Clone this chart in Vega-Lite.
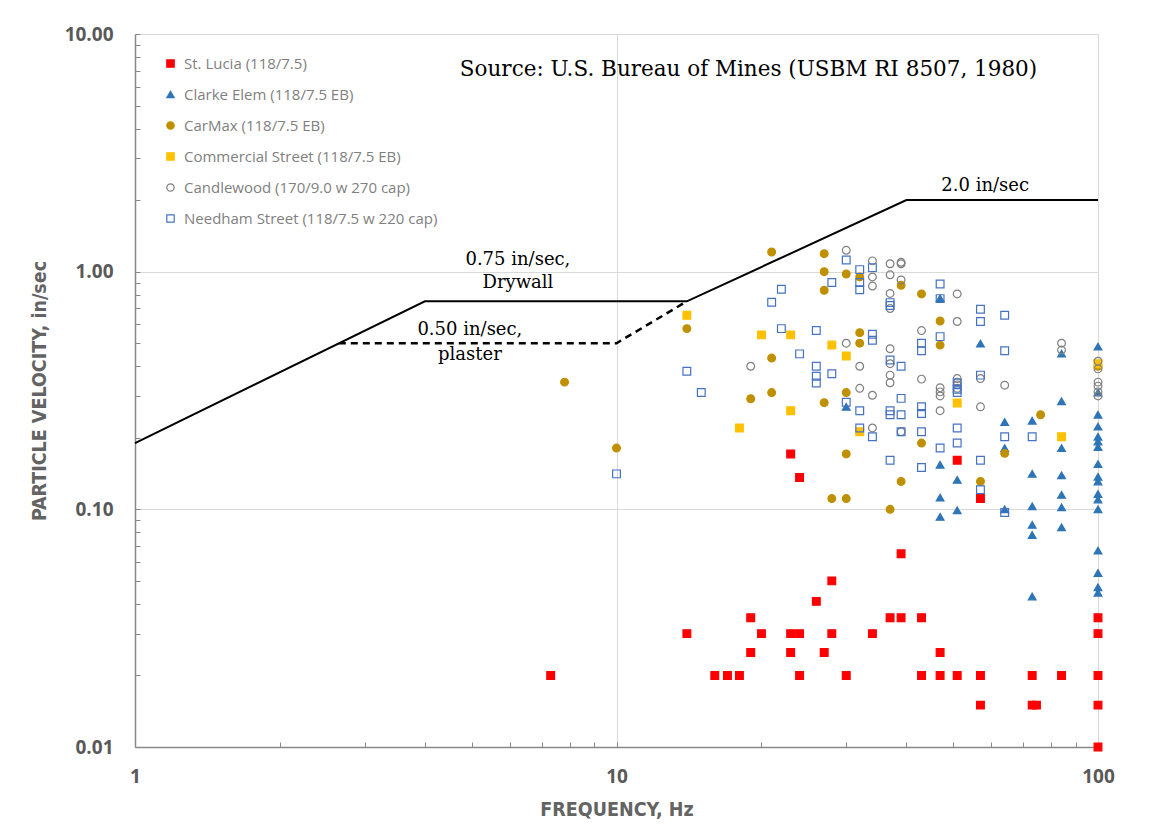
{
  "$schema": "https://vega.github.io/schema/vega-lite/v6.json",
  "width": 963,
  "height": 713,
  "autosize": {"type": "none"},
  "padding": {"left": 135, "top": 34, "right": 55, "bottom": 91},
  "background": "white",
  "config": {"view": {"stroke": null}, "font": "Open Sans"},
  "encoding": {
    "x": {
      "field": "f", "type": "quantitative",
      "scale": {"type": "log", "domain": [1, 100], "nice": false},
      "axis": {
        "title": "FREQUENCY, Hz",
        "titleFont": "DejaVu Sans Condensed", "titleFontSize": 19.5, "titleFontWeight": "bold", "titleColor": "#636363", "titlePadding": 14,
        "values": [1, 2, 3, 4, 5, 6, 7, 8, 9, 10, 20, 30, 40, 50, 60, 70, 80, 90, 100],
        "format": "d",
        "labelExpr": "datum.value == 1 || datum.value == 10 || datum.value == 100 ? datum.label : ''",
        "labelFont": "Open Sans", "labelFontSize": 19, "labelFontWeight": "bold", "labelColor": "#595959",
        "labelPadding": 25, "labelOverlap": false, "labelFlush": false,
        "domainColor": "#898989", "domainWidth": 1.5,
        "tickColor": "#898989", "tickSize": -5, "tickWidth": 1,
        "grid": true,
        "gridColor": {"condition": {"test": "datum.value == 10 || datum.value == 100", "value": "#d9d9d9"}, "value": "transparent"}
      }
    },
    "y": {
      "field": "v", "type": "quantitative",
      "scale": {"type": "log", "domain": [0.01, 10], "nice": false},
      "axis": {
        "title": "PARTICLE VELOCITY, in/sec",
        "titleFont": "DejaVu Sans Condensed", "titleFontSize": 19.5, "titleFontWeight": "bold", "titleColor": "#636363", "titlePadding": 15,
        "values": [0.01, 0.02, 0.03, 0.04, 0.05, 0.06, 0.07, 0.08, 0.09, 0.1, 0.2, 0.3, 0.4, 0.5, 0.6, 0.7, 0.8, 0.9, 1, 2, 3, 4, 5, 6, 7, 8, 9, 10],
        "labelExpr": "datum.value == 0.01 || datum.value == 0.1 || datum.value == 1 || datum.value == 10 ? format(datum.value, '.2f') : ''",
        "labelFont": "Open Sans", "labelFontSize": 19, "labelFontWeight": "bold", "labelColor": "#595959",
        "labelPadding": 27, "labelOverlap": false, "labelFlush": false,
        "domainColor": "#898989", "domainWidth": 1.5,
        "tickColor": "#898989", "tickSize": -5, "tickWidth": 1,
        "grid": true,
        "gridColor": {"condition": {"test": "datum.value == 0.1 || datum.value == 1 || datum.value == 10", "value": "#d9d9d9"}, "value": "transparent"}
      }
    }
  },
  "layer": [
    {
      "data": {"values": [
        {"f": 1, "v": 0.19}, {"f": 4, "v": 0.75}, {"f": 14, "v": 0.75}, {"f": 40, "v": 2.0}, {"f": 100, "v": 2.0}
      ]},
      "mark": {"type": "line", "color": "black", "strokeWidth": 2}
    },
    {
      "data": {"values": [
        {"f": 2.65, "v": 0.5}, {"f": 10, "v": 0.5}, {"f": 14, "v": 0.75}
      ]},
      "mark": {"type": "line", "color": "black", "strokeWidth": 2.5, "strokeDash": [7, 5]}
    },
    {
      "data": {"values": [
        {"site": "St. Lucia (118/7.5)", "f": 7.3, "v": 0.020},
        {"site": "St. Lucia (118/7.5)", "f": 14, "v": 0.030},
        {"site": "St. Lucia (118/7.5)", "f": 16, "v": 0.020},
        {"site": "St. Lucia (118/7.5)", "f": 17, "v": 0.020},
        {"site": "St. Lucia (118/7.5)", "f": 18, "v": 0.020},
        {"site": "St. Lucia (118/7.5)", "f": 19, "v": 0.035},
        {"site": "St. Lucia (118/7.5)", "f": 19, "v": 0.025},
        {"site": "St. Lucia (118/7.5)", "f": 20, "v": 0.030},
        {"site": "St. Lucia (118/7.5)", "f": 23, "v": 0.171},
        {"site": "St. Lucia (118/7.5)", "f": 23, "v": 0.030},
        {"site": "St. Lucia (118/7.5)", "f": 23, "v": 0.025},
        {"site": "St. Lucia (118/7.5)", "f": 24, "v": 0.136},
        {"site": "St. Lucia (118/7.5)", "f": 24, "v": 0.030},
        {"site": "St. Lucia (118/7.5)", "f": 24, "v": 0.020},
        {"site": "St. Lucia (118/7.5)", "f": 26, "v": 0.041},
        {"site": "St. Lucia (118/7.5)", "f": 27, "v": 0.025},
        {"site": "St. Lucia (118/7.5)", "f": 28, "v": 0.050},
        {"site": "St. Lucia (118/7.5)", "f": 28, "v": 0.030},
        {"site": "St. Lucia (118/7.5)", "f": 30, "v": 0.020},
        {"site": "St. Lucia (118/7.5)", "f": 34, "v": 0.030},
        {"site": "St. Lucia (118/7.5)", "f": 37, "v": 0.035},
        {"site": "St. Lucia (118/7.5)", "f": 39, "v": 0.065},
        {"site": "St. Lucia (118/7.5)", "f": 39, "v": 0.035},
        {"site": "St. Lucia (118/7.5)", "f": 43, "v": 0.035},
        {"site": "St. Lucia (118/7.5)", "f": 43, "v": 0.020},
        {"site": "St. Lucia (118/7.5)", "f": 47, "v": 0.025},
        {"site": "St. Lucia (118/7.5)", "f": 47, "v": 0.020},
        {"site": "St. Lucia (118/7.5)", "f": 51, "v": 0.161},
        {"site": "St. Lucia (118/7.5)", "f": 51, "v": 0.020},
        {"site": "St. Lucia (118/7.5)", "f": 57, "v": 0.111},
        {"site": "St. Lucia (118/7.5)", "f": 57, "v": 0.020},
        {"site": "St. Lucia (118/7.5)", "f": 57, "v": 0.015},
        {"site": "St. Lucia (118/7.5)", "f": 73, "v": 0.020},
        {"site": "St. Lucia (118/7.5)", "f": 73, "v": 0.015},
        {"site": "St. Lucia (118/7.5)", "f": 74.5, "v": 0.015},
        {"site": "St. Lucia (118/7.5)", "f": 84, "v": 0.020},
        {"site": "St. Lucia (118/7.5)", "f": 100, "v": 0.035},
        {"site": "St. Lucia (118/7.5)", "f": 100, "v": 0.030},
        {"site": "St. Lucia (118/7.5)", "f": 100, "v": 0.020},
        {"site": "St. Lucia (118/7.5)", "f": 100, "v": 0.015},
        {"site": "St. Lucia (118/7.5)", "f": 100, "v": 0.010},

        {"site": "Clarke Elem (118/7.5 EB)", "f": 30, "v": 0.27},
        {"site": "Clarke Elem (118/7.5 EB)", "f": 47, "v": 0.773},
        {"site": "Clarke Elem (118/7.5 EB)", "f": 57, "v": 0.498},
        {"site": "Clarke Elem (118/7.5 EB)", "f": 84, "v": 0.452},
        {"site": "Clarke Elem (118/7.5 EB)", "f": 84, "v": 0.285},
        {"site": "Clarke Elem (118/7.5 EB)", "f": 64, "v": 0.233},
        {"site": "Clarke Elem (118/7.5 EB)", "f": 73, "v": 0.236},
        {"site": "Clarke Elem (118/7.5 EB)", "f": 84, "v": 0.181},
        {"site": "Clarke Elem (118/7.5 EB)", "f": 64, "v": 0.181},
        {"site": "Clarke Elem (118/7.5 EB)", "f": 47, "v": 0.154},
        {"site": "Clarke Elem (118/7.5 EB)", "f": 51, "v": 0.133},
        {"site": "Clarke Elem (118/7.5 EB)", "f": 73, "v": 0.141},
        {"site": "Clarke Elem (118/7.5 EB)", "f": 84, "v": 0.139},
        {"site": "Clarke Elem (118/7.5 EB)", "f": 47, "v": 0.112},
        {"site": "Clarke Elem (118/7.5 EB)", "f": 84, "v": 0.115},
        {"site": "Clarke Elem (118/7.5 EB)", "f": 73, "v": 0.103},
        {"site": "Clarke Elem (118/7.5 EB)", "f": 84, "v": 0.102},
        {"site": "Clarke Elem (118/7.5 EB)", "f": 64, "v": 0.100},
        {"site": "Clarke Elem (118/7.5 EB)", "f": 51, "v": 0.099},
        {"site": "Clarke Elem (118/7.5 EB)", "f": 47, "v": 0.093},
        {"site": "Clarke Elem (118/7.5 EB)", "f": 73, "v": 0.086},
        {"site": "Clarke Elem (118/7.5 EB)", "f": 73, "v": 0.078},
        {"site": "Clarke Elem (118/7.5 EB)", "f": 84, "v": 0.084},
        {"site": "Clarke Elem (118/7.5 EB)", "f": 73, "v": 0.043},
        {"site": "Clarke Elem (118/7.5 EB)", "f": 100, "v": 0.484},
        {"site": "Clarke Elem (118/7.5 EB)", "f": 100, "v": 0.31},
        {"site": "Clarke Elem (118/7.5 EB)", "f": 100, "v": 0.25},
        {"site": "Clarke Elem (118/7.5 EB)", "f": 100, "v": 0.223},
        {"site": "Clarke Elem (118/7.5 EB)", "f": 100, "v": 0.202},
        {"site": "Clarke Elem (118/7.5 EB)", "f": 100, "v": 0.193},
        {"site": "Clarke Elem (118/7.5 EB)", "f": 100, "v": 0.183},
        {"site": "Clarke Elem (118/7.5 EB)", "f": 100, "v": 0.155},
        {"site": "Clarke Elem (118/7.5 EB)", "f": 100, "v": 0.137},
        {"site": "Clarke Elem (118/7.5 EB)", "f": 100, "v": 0.131},
        {"site": "Clarke Elem (118/7.5 EB)", "f": 100, "v": 0.116},
        {"site": "Clarke Elem (118/7.5 EB)", "f": 100, "v": 0.110},
        {"site": "Clarke Elem (118/7.5 EB)", "f": 100, "v": 0.100},
        {"site": "Clarke Elem (118/7.5 EB)", "f": 100, "v": 0.067},
        {"site": "Clarke Elem (118/7.5 EB)", "f": 100, "v": 0.054},
        {"site": "Clarke Elem (118/7.5 EB)", "f": 100, "v": 0.047},
        {"site": "Clarke Elem (118/7.5 EB)", "f": 100, "v": 0.0446},

        {"site": "CarMax (118/7.5 EB)", "f": 7.8, "v": 0.343},
        {"site": "CarMax (118/7.5 EB)", "f": 10, "v": 0.181},
        {"site": "CarMax (118/7.5 EB)", "f": 14, "v": 0.576},
        {"site": "CarMax (118/7.5 EB)", "f": 19, "v": 0.292},
        {"site": "CarMax (118/7.5 EB)", "f": 21, "v": 1.21},
        {"site": "CarMax (118/7.5 EB)", "f": 21, "v": 0.433},
        {"site": "CarMax (118/7.5 EB)", "f": 21, "v": 0.31},
        {"site": "CarMax (118/7.5 EB)", "f": 27, "v": 1.19},
        {"site": "CarMax (118/7.5 EB)", "f": 27, "v": 1.00},
        {"site": "CarMax (118/7.5 EB)", "f": 27, "v": 0.835},
        {"site": "CarMax (118/7.5 EB)", "f": 27, "v": 0.281},
        {"site": "CarMax (118/7.5 EB)", "f": 28, "v": 0.111},
        {"site": "CarMax (118/7.5 EB)", "f": 30, "v": 0.978},
        {"site": "CarMax (118/7.5 EB)", "f": 30, "v": 0.31},
        {"site": "CarMax (118/7.5 EB)", "f": 30, "v": 0.171},
        {"site": "CarMax (118/7.5 EB)", "f": 30, "v": 0.111},
        {"site": "CarMax (118/7.5 EB)", "f": 32, "v": 0.95},
        {"site": "CarMax (118/7.5 EB)", "f": 32, "v": 0.554},
        {"site": "CarMax (118/7.5 EB)", "f": 32, "v": 0.50},
        {"site": "CarMax (118/7.5 EB)", "f": 37, "v": 0.100},
        {"site": "CarMax (118/7.5 EB)", "f": 39, "v": 0.877},
        {"site": "CarMax (118/7.5 EB)", "f": 39, "v": 0.131},
        {"site": "CarMax (118/7.5 EB)", "f": 43, "v": 0.806},
        {"site": "CarMax (118/7.5 EB)", "f": 43, "v": 0.19},
        {"site": "CarMax (118/7.5 EB)", "f": 47, "v": 0.62},
        {"site": "CarMax (118/7.5 EB)", "f": 47, "v": 0.491},
        {"site": "CarMax (118/7.5 EB)", "f": 57, "v": 0.131},
        {"site": "CarMax (118/7.5 EB)", "f": 64, "v": 0.172},
        {"site": "CarMax (118/7.5 EB)", "f": 76, "v": 0.25},
        {"site": "CarMax (118/7.5 EB)", "f": 100, "v": 0.40},

        {"site": "Commercial Street (118/7.5 EB)", "f": 14, "v": 0.655},
        {"site": "Commercial Street (118/7.5 EB)", "f": 18, "v": 0.22},
        {"site": "Commercial Street (118/7.5 EB)", "f": 20, "v": 0.542},
        {"site": "Commercial Street (118/7.5 EB)", "f": 23, "v": 0.542},
        {"site": "Commercial Street (118/7.5 EB)", "f": 23, "v": 0.26},
        {"site": "Commercial Street (118/7.5 EB)", "f": 28, "v": 0.491},
        {"site": "Commercial Street (118/7.5 EB)", "f": 30, "v": 0.442},
        {"site": "Commercial Street (118/7.5 EB)", "f": 32, "v": 0.212},
        {"site": "Commercial Street (118/7.5 EB)", "f": 51, "v": 0.28},
        {"site": "Commercial Street (118/7.5 EB)", "f": 84, "v": 0.202},
        {"site": "Commercial Street (118/7.5 EB)", "f": 100, "v": 0.41},

        {"site": "Candlewood (170/9.0 w 270 cap)", "f": 19, "v": 0.40},
        {"site": "Candlewood (170/9.0 w 270 cap)", "f": 30, "v": 1.23},
        {"site": "Candlewood (170/9.0 w 270 cap)", "f": 30, "v": 0.50},
        {"site": "Candlewood (170/9.0 w 270 cap)", "f": 32, "v": 0.40},
        {"site": "Candlewood (170/9.0 w 270 cap)", "f": 32, "v": 0.323},
        {"site": "Candlewood (170/9.0 w 270 cap)", "f": 34, "v": 1.11},
        {"site": "Candlewood (170/9.0 w 270 cap)", "f": 34, "v": 0.95},
        {"site": "Candlewood (170/9.0 w 270 cap)", "f": 34, "v": 0.87},
        {"site": "Candlewood (170/9.0 w 270 cap)", "f": 34, "v": 0.302},
        {"site": "Candlewood (170/9.0 w 270 cap)", "f": 34, "v": 0.22},
        {"site": "Candlewood (170/9.0 w 270 cap)", "f": 37, "v": 1.08},
        {"site": "Candlewood (170/9.0 w 270 cap)", "f": 37, "v": 0.97},
        {"site": "Candlewood (170/9.0 w 270 cap)", "f": 37, "v": 0.81},
        {"site": "Candlewood (170/9.0 w 270 cap)", "f": 37, "v": 0.70},
        {"site": "Candlewood (170/9.0 w 270 cap)", "f": 37, "v": 0.474},
        {"site": "Candlewood (170/9.0 w 270 cap)", "f": 37, "v": 0.41},
        {"site": "Candlewood (170/9.0 w 270 cap)", "f": 37, "v": 0.367},
        {"site": "Candlewood (170/9.0 w 270 cap)", "f": 37, "v": 0.341},
        {"site": "Candlewood (170/9.0 w 270 cap)", "f": 39, "v": 1.095},
        {"site": "Candlewood (170/9.0 w 270 cap)", "f": 39, "v": 1.08},
        {"site": "Candlewood (170/9.0 w 270 cap)", "f": 39, "v": 0.923},
        {"site": "Candlewood (170/9.0 w 270 cap)", "f": 39, "v": 0.212},
        {"site": "Candlewood (170/9.0 w 270 cap)", "f": 43, "v": 0.565},
        {"site": "Candlewood (170/9.0 w 270 cap)", "f": 43, "v": 0.353},
        {"site": "Candlewood (170/9.0 w 270 cap)", "f": 47, "v": 0.325},
        {"site": "Candlewood (170/9.0 w 270 cap)", "f": 47, "v": 0.312},
        {"site": "Candlewood (170/9.0 w 270 cap)", "f": 47, "v": 0.30},
        {"site": "Candlewood (170/9.0 w 270 cap)", "f": 47, "v": 0.26},
        {"site": "Candlewood (170/9.0 w 270 cap)", "f": 51, "v": 0.806},
        {"site": "Candlewood (170/9.0 w 270 cap)", "f": 51, "v": 0.617},
        {"site": "Candlewood (170/9.0 w 270 cap)", "f": 51, "v": 0.355},
        {"site": "Candlewood (170/9.0 w 270 cap)", "f": 51, "v": 0.343},
        {"site": "Candlewood (170/9.0 w 270 cap)", "f": 51, "v": 0.334},
        {"site": "Candlewood (170/9.0 w 270 cap)", "f": 51, "v": 0.323},
        {"site": "Candlewood (170/9.0 w 270 cap)", "f": 57, "v": 0.355},
        {"site": "Candlewood (170/9.0 w 270 cap)", "f": 57, "v": 0.27},
        {"site": "Candlewood (170/9.0 w 270 cap)", "f": 64, "v": 0.333},
        {"site": "Candlewood (170/9.0 w 270 cap)", "f": 84, "v": 0.50},
        {"site": "Candlewood (170/9.0 w 270 cap)", "f": 84, "v": 0.468},
        {"site": "Candlewood (170/9.0 w 270 cap)", "f": 100, "v": 0.42},
        {"site": "Candlewood (170/9.0 w 270 cap)", "f": 100, "v": 0.39},
        {"site": "Candlewood (170/9.0 w 270 cap)", "f": 100, "v": 0.343},
        {"site": "Candlewood (170/9.0 w 270 cap)", "f": 100, "v": 0.33},
        {"site": "Candlewood (170/9.0 w 270 cap)", "f": 100, "v": 0.312},
        {"site": "Candlewood (170/9.0 w 270 cap)", "f": 100, "v": 0.30},

        {"site": "Needham Street (118/7.5 w 220 cap)", "f": 10, "v": 0.141},
        {"site": "Needham Street (118/7.5 w 220 cap)", "f": 14, "v": 0.381},
        {"site": "Needham Street (118/7.5 w 220 cap)", "f": 15, "v": 0.31},
        {"site": "Needham Street (118/7.5 w 220 cap)", "f": 21, "v": 0.744},
        {"site": "Needham Street (118/7.5 w 220 cap)", "f": 22, "v": 0.843},
        {"site": "Needham Street (118/7.5 w 220 cap)", "f": 22, "v": 0.576},
        {"site": "Needham Street (118/7.5 w 220 cap)", "f": 24, "v": 0.451},
        {"site": "Needham Street (118/7.5 w 220 cap)", "f": 26, "v": 0.565},
        {"site": "Needham Street (118/7.5 w 220 cap)", "f": 26, "v": 0.40},
        {"site": "Needham Street (118/7.5 w 220 cap)", "f": 26, "v": 0.363},
        {"site": "Needham Street (118/7.5 w 220 cap)", "f": 26, "v": 0.34},
        {"site": "Needham Street (118/7.5 w 220 cap)", "f": 28, "v": 0.90},
        {"site": "Needham Street (118/7.5 w 220 cap)", "f": 28, "v": 0.372},
        {"site": "Needham Street (118/7.5 w 220 cap)", "f": 30, "v": 1.12},
        {"site": "Needham Street (118/7.5 w 220 cap)", "f": 30, "v": 0.282},
        {"site": "Needham Street (118/7.5 w 220 cap)", "f": 32, "v": 1.02},
        {"site": "Needham Street (118/7.5 w 220 cap)", "f": 32, "v": 0.90},
        {"site": "Needham Street (118/7.5 w 220 cap)", "f": 32, "v": 0.84},
        {"site": "Needham Street (118/7.5 w 220 cap)", "f": 32, "v": 0.26},
        {"site": "Needham Street (118/7.5 w 220 cap)", "f": 32, "v": 0.22},
        {"site": "Needham Street (118/7.5 w 220 cap)", "f": 34, "v": 1.04},
        {"site": "Needham Street (118/7.5 w 220 cap)", "f": 34, "v": 0.545},
        {"site": "Needham Street (118/7.5 w 220 cap)", "f": 34, "v": 0.515},
        {"site": "Needham Street (118/7.5 w 220 cap)", "f": 34, "v": 0.202},
        {"site": "Needham Street (118/7.5 w 220 cap)", "f": 37, "v": 0.741},
        {"site": "Needham Street (118/7.5 w 220 cap)", "f": 37, "v": 0.72},
        {"site": "Needham Street (118/7.5 w 220 cap)", "f": 37, "v": 0.425},
        {"site": "Needham Street (118/7.5 w 220 cap)", "f": 37, "v": 0.26},
        {"site": "Needham Street (118/7.5 w 220 cap)", "f": 37, "v": 0.25},
        {"site": "Needham Street (118/7.5 w 220 cap)", "f": 37, "v": 0.161},
        {"site": "Needham Street (118/7.5 w 220 cap)", "f": 39, "v": 0.40},
        {"site": "Needham Street (118/7.5 w 220 cap)", "f": 39, "v": 0.293},
        {"site": "Needham Street (118/7.5 w 220 cap)", "f": 39, "v": 0.25},
        {"site": "Needham Street (118/7.5 w 220 cap)", "f": 39, "v": 0.212},
        {"site": "Needham Street (118/7.5 w 220 cap)", "f": 43, "v": 0.50},
        {"site": "Needham Street (118/7.5 w 220 cap)", "f": 43, "v": 0.465},
        {"site": "Needham Street (118/7.5 w 220 cap)", "f": 43, "v": 0.27},
        {"site": "Needham Street (118/7.5 w 220 cap)", "f": 43, "v": 0.253},
        {"site": "Needham Street (118/7.5 w 220 cap)", "f": 43, "v": 0.212},
        {"site": "Needham Street (118/7.5 w 220 cap)", "f": 43, "v": 0.15},
        {"site": "Needham Street (118/7.5 w 220 cap)", "f": 47, "v": 0.888},
        {"site": "Needham Street (118/7.5 w 220 cap)", "f": 47, "v": 0.77},
        {"site": "Needham Street (118/7.5 w 220 cap)", "f": 47, "v": 0.533},
        {"site": "Needham Street (118/7.5 w 220 cap)", "f": 47, "v": 0.181},
        {"site": "Needham Street (118/7.5 w 220 cap)", "f": 51, "v": 0.34},
        {"site": "Needham Street (118/7.5 w 220 cap)", "f": 51, "v": 0.32},
        {"site": "Needham Street (118/7.5 w 220 cap)", "f": 51, "v": 0.31},
        {"site": "Needham Street (118/7.5 w 220 cap)", "f": 51, "v": 0.22},
        {"site": "Needham Street (118/7.5 w 220 cap)", "f": 51, "v": 0.19},
        {"site": "Needham Street (118/7.5 w 220 cap)", "f": 57, "v": 0.695},
        {"site": "Needham Street (118/7.5 w 220 cap)", "f": 57, "v": 0.617},
        {"site": "Needham Street (118/7.5 w 220 cap)", "f": 57, "v": 0.367},
        {"site": "Needham Street (118/7.5 w 220 cap)", "f": 57, "v": 0.161},
        {"site": "Needham Street (118/7.5 w 220 cap)", "f": 57, "v": 0.121},
        {"site": "Needham Street (118/7.5 w 220 cap)", "f": 64, "v": 0.655},
        {"site": "Needham Street (118/7.5 w 220 cap)", "f": 64, "v": 0.465},
        {"site": "Needham Street (118/7.5 w 220 cap)", "f": 64, "v": 0.202},
        {"site": "Needham Street (118/7.5 w 220 cap)", "f": 64, "v": 0.097},
        {"site": "Needham Street (118/7.5 w 220 cap)", "f": 73, "v": 0.202}
      ]},
      "mark": {"type": "point", "opacity": 1, "strokeWidth": 1.2, "size": 60},
      "encoding": {
        "shape": {
          "field": "site", "type": "nominal",
          "scale": {
            "domain": ["St. Lucia (118/7.5)", "Clarke Elem (118/7.5 EB)", "CarMax (118/7.5 EB)", "Commercial Street (118/7.5 EB)", "Candlewood (170/9.0 w 270 cap)", "Needham Street (118/7.5 w 220 cap)"],
            "range": ["square", "triangle-up", "circle", "square", "circle", "square"]
          },
          "legend": {
            "orient": "none", "legendX": 28, "legendY": 22, "title": null,
            "labelFont": "Open Sans", "labelFontSize": 15, "labelColor": "#7f7f7f", "labelLimit": 0,
            "symbolSize": 55, "symbolStrokeWidth": 1.2, "rowPadding": 15, "labelOffset": 6, "padding": 0
          }
        },
        "fill": {
          "field": "site", "type": "nominal",
          "scale": {
            "domain": ["St. Lucia (118/7.5)", "Clarke Elem (118/7.5 EB)", "CarMax (118/7.5 EB)", "Commercial Street (118/7.5 EB)", "Candlewood (170/9.0 w 270 cap)", "Needham Street (118/7.5 w 220 cap)"],
            "range": ["#ff0000", "#2e75b6", "#bf9000", "#ffc000", "transparent", "transparent"]
          },
          "legend": {
            "orient": "none", "legendX": 28, "legendY": 22, "title": null,
            "labelFont": "Open Sans", "labelFontSize": 15, "labelColor": "#7f7f7f", "labelLimit": 0,
            "symbolSize": 55, "symbolStrokeWidth": 1.2, "rowPadding": 15, "labelOffset": 6, "padding": 0
          }
        },
        "stroke": {
          "field": "site", "type": "nominal",
          "scale": {
            "domain": ["St. Lucia (118/7.5)", "Clarke Elem (118/7.5 EB)", "CarMax (118/7.5 EB)", "Commercial Street (118/7.5 EB)", "Candlewood (170/9.0 w 270 cap)", "Needham Street (118/7.5 w 220 cap)"],
            "range": ["#ff0000", "#2e75b6", "#bf9000", "#ffc000", "#7f7f7f", "#4472c4"]
          },
          "legend": {
            "orient": "none", "legendX": 28, "legendY": 22, "title": null,
            "labelFont": "Open Sans", "labelFontSize": 15, "labelColor": "#7f7f7f", "labelLimit": 0,
            "symbolSize": 55, "symbolStrokeWidth": 1.2, "rowPadding": 15, "labelOffset": 6, "padding": 0
          }
        }
      }
    },
    {
      "data": {"values": [
        {"label": "Source: U.S. Bureau of Mines (USBM RI 8507, 1980)", "f": 18.8, "v": 7.06}
      ]},
      "mark": {"type": "text", "font": "DejaVu Serif", "fontSize": 21.5, "fill": "black", "align": "center", "baseline": "middle"},
      "encoding": {
        "text": {"field": "label"}
      }
    },
    {
      "data": {"values": [
        {"label": "2.0 in/sec", "f": 58.3, "v": 2.3}
      ]},
      "mark": {"type": "text", "font": "DejaVu Serif", "fontSize": 18, "fill": "black", "align": "center", "baseline": "middle"},
      "encoding": {
        "text": {"field": "label"}
      }
    },
    {
      "data": {"values": [
        {"label": ["0.75 in/sec,", "Drywall"], "f": 6.24, "v": 1.12}
      ]},
      "mark": {"type": "text", "font": "DejaVu Serif", "fontSize": 18, "fill": "black", "align": "center", "baseline": "middle", "lineHeight": 23},
      "encoding": {
        "text": {"field": "label"}
      }
    },
    {
      "data": {"values": [
        {"label": ["0.50 in/sec,", "plaster"], "f": 4.96, "v": 0.568}
      ]},
      "mark": {"type": "text", "font": "DejaVu Serif", "fontSize": 18, "fill": "black", "align": "center", "baseline": "middle", "lineHeight": 25},
      "encoding": {
        "text": {"field": "label"}
      }
    }
  ]
}
